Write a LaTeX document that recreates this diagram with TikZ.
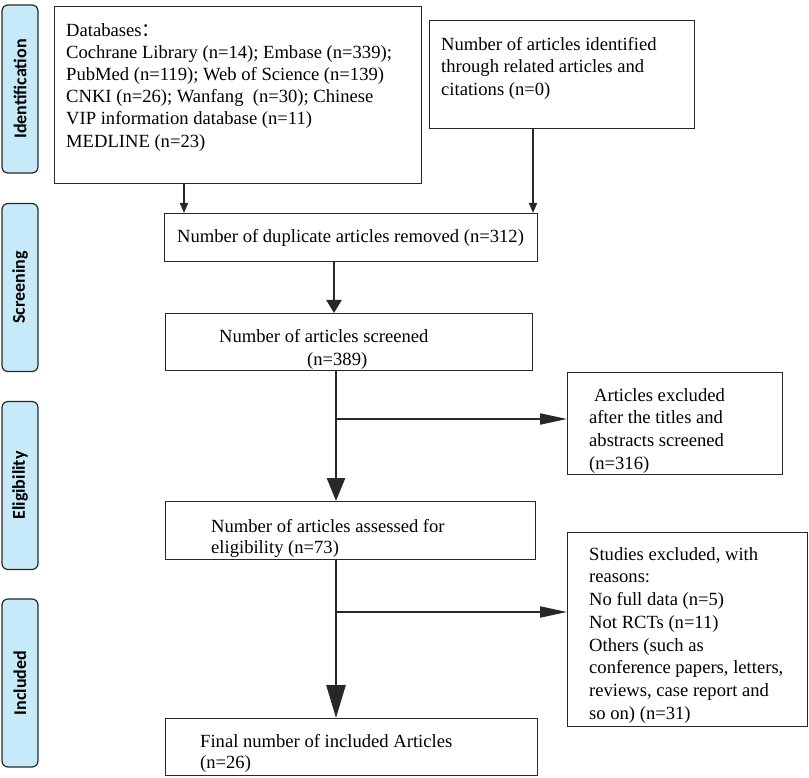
\documentclass[tikz,border=0pt]{standalone}
\usepackage{fontspec}
\setmainfont{Liberation Serif}
\newfontfamily\sidefont{Carlito}
\newfontfamily\cjk{Noto Sans CJK SC}
\usetikzlibrary{arrows.meta}
\definecolor{sideblue}{RGB}{199,234,250}
\definecolor{edge}{RGB}{40,40,40}
\newcommand\fs[1]{\fontsize{18.6}{#1}\selectfont}
\newcommand\st{\rule{0pt}{16pt}}
\begin{document}
\begin{tikzpicture}[x=1pt,y=-1pt,
  box/.style={draw=edge, line width=1.3pt, anchor=north west, inner sep=0pt, rectangle},
  side/.style={draw=edge, line width=1.2pt, fill=sideblue, rounded corners=6pt, rotate=90,
    minimum width=168pt, minimum height=36pt, inner sep=0pt,
    font=\sidefont\bfseries\fontsize{18}{20}\selectfont},
  txt/.style={anchor=north west, inner sep=0pt, align=left},
  sarrow/.style={line width=1.8pt, draw=edge, -{Triangle[width=8pt,length=10pt]}},
  marrow/.style={line width=2.6pt, draw=edge, -{Triangle[width=15pt,length=13pt]}},
  larrow/.style={line width=2.8pt, draw=edge, -{Triangle[width=18pt,length=23pt]}},
  xarrow/.style={line width=2.8pt, draw=edge, -{Triangle[width=19pt,length=33pt]}},
  harrow/.style={line width=2pt, draw=edge, -{Triangle[width=11pt,length=27pt]}}]
\useasboundingbox (0,0) rectangle (809,778);

% side labels
\node[side] (sid) at (20,89) {Identification};
\node[side] (ssc) at (20,287.5) {Screening};
\node[side] (sel) at (20,485.5) {Eligibility};
\node[side] (sin) at (20,683) {Included};

% boxes
\node[box, minimum width=367pt, minimum height=177pt] (db) at (54,6) {};
\node[box, minimum width=265pt, minimum height=108pt] (rel) at (429,20) {};
\node[box, minimum width=373pt, minimum height=48pt] (dup) at (164,213) {};
\node[box, minimum width=367pt, minimum height=57pt] (scr) at (165,313) {};
\node[box, minimum width=215pt, minimum height=102pt] (ex1) at (567,372) {};
\node[box, minimum width=370pt, minimum height=58pt] (elig) at (165,501) {};
\node[box, minimum width=240pt, minimum height=194pt] (ex2) at (567,532) {};
\node[box, minimum width=372pt, minimum height=57pt] (fin) at (165,718) {};

% texts
\node[txt, font=\fs{22.2}] (tdb) at (66,20) {\st Databases{\cjk ：}\\Cochrane Library (n=14); Embase (n=339);\\PubMed (n=119); Web of Science (n=139)\\CNKI (n=26); Wanfang\ \ (n=30); Chinese\\VIP information database (n=11)\\MEDLINE (n=23)};
\node[txt, font=\fs{22.5}] (trel) at (441,34) {\st Number of articles identified\\through related articles and\\citations (n=0)};
\node[txt, font=\fs{22}] (tdup) at (177,226) {\st Number of duplicate articles removed (n=312)};
\node[txt, font=\fs{23}] (tscr) at (219,326) {\st Number of articles screened\\\hspace*{88pt}(n=389)};
\node[txt, font=\fs{22.6}] (tex1) at (589,385) {\st\hspace*{5pt}Articles excluded\\after the titles and\\abstracts screened\\(n=316)};
\node[txt, font=\fs{21}] (telig) at (211,516) {\st Number of articles assessed for\\eligibility (n=73)};
\node[txt, font=\fs{22.7}] (tex2) at (589,544) {\st Studies excluded, with\\reasons:\\No full data (n=5)\\Not RCTs (n=11)\\Others (such as\\conference papers, letters,\\reviews, case report and\\so on) (n=31)};
\node[txt, font=\fs{21}] (tfin) at (200,731) {\st Final number of included Articles\\(n=26)};

% connectors
\coordinate (c1) at (184,0);
\coordinate (c2) at (533,0);
\coordinate (c3) at (334,0);
\coordinate (c4) at (336,0);
\coordinate (b1) at (336,419);
\coordinate (b2) at (336,612);
\draw[sarrow] (c1 |- db.south) -- (c1 |- dup.north);
\draw[sarrow] (c2 |- rel.south) -- (c2 |- dup.north);
\draw[marrow] (c3 |- dup.south) -- (c3 |- scr.north);
\draw[larrow] (c4 |- scr.south) -- (c4 |- elig.north);
\draw[xarrow] (c4 |- elig.south) -- (c4 |- fin.north);
\draw[harrow] (b1) -- (b1 -| ex1.west);
\draw[harrow] (b2) -- (b2 -| ex2.west);
\end{tikzpicture}
\end{document}
